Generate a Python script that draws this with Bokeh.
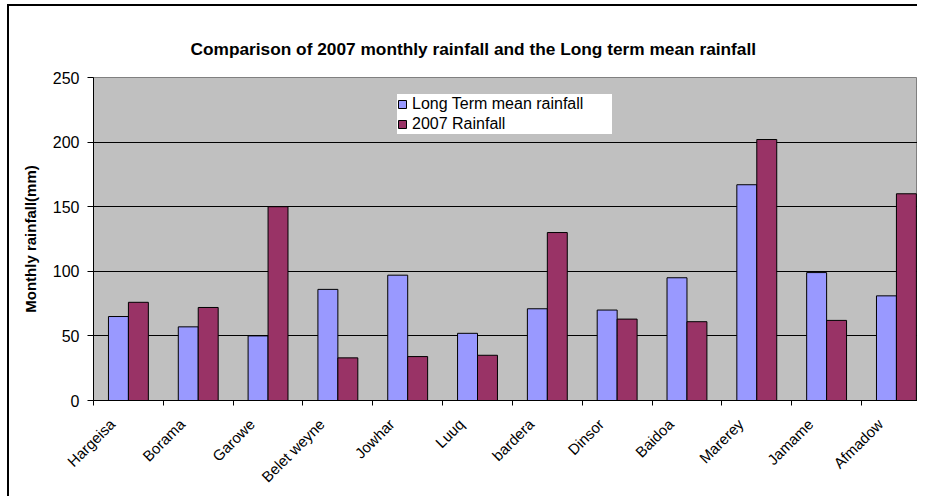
import numpy as np
from bokeh.plotting import figure
from bokeh.models import (Range1d, FixedTicker, Legend, LegendItem,
                          ColumnDataSource)
from bokeh.embed import file_html
from bokeh.resources import INLINE

stations = ["Hargeisa", "Borama", "Garowe", "Belet weyne", "Jowhar", "Luuq",
            "bardera", "Dinsor", "Baidoa", "Marerey", "Jamame", "Afmadow"]
long_term = [65, 57, 50, 86, 97, 52, 71, 70, 95, 167, 99, 81]
rain_2007 = [76, 72, 150, 33, 34, 35, 130, 63, 61, 202, 62, 160]
y_ticks = [0, 50, 100, 150, 200, 250]
grid_ticks = [50, 100, 150, 200]
series_names = ["Long Term mean rainfall", "2007 Rainfall"]
title_text = "Comparison of 2007  monthly rainfall and the Long term mean rainfall"
y_label = "Monthly rainfall(mm)"

FONT = "Liberation Sans"
W, H = 917, 496
LEFT, TOP, FRAME_H = 93, 77, 323
BOTTOM = H - TOP - FRAME_H
cat_px = 69.82
n = len(stations)
x_end = (W - LEFT) / cat_px

p = figure(width=W, height=H, output_backend="svg", toolbar_location=None,
           x_range=Range1d(0, x_end), y_range=Range1d(0, 250),
           min_border_left=LEFT, min_border_right=0, min_border_top=TOP,
           min_border_bottom=BOTTOM, title=title_text)
# outer chart-area border (left and top edges visible), drawn as the page
# element's background behind a transparent canvas border
p.styles = {
    "background-image": "linear-gradient(black, black), linear-gradient(black, black)",
    "background-size": "2px 100%, 100% 2px",
    "background-position": "7px 4px, 7px 4px",
    "background-repeat": "no-repeat",
}
p.background_fill_color = "#C0C0C0"
p.border_fill_alpha = 0
p.outline_line_color = "#808080"
p.outline_line_width = 1

p.title.align = "left"
p.title.offset = 97
p.title.standoff = 38
p.title.text_font = FONT
p.title.text_font_size = "17.3px"
p.title.text_font_style = "bold"
p.title.text_color = "black"

centers = np.arange(n) + 0.5
bw = 1 / 3.5
src = ColumnDataSource(dict(x1=centers - bw / 2, x2=centers + bw / 2,
                            lt=long_term, r7=rain_2007))
r1 = p.vbar(x="x1", top="lt", bottom=0, width=bw, source=src,
            fill_color="#9999FF", line_color="black", line_width=1)
r2 = p.vbar(x="x2", top="r7", bottom=0, width=bw, source=src,
            fill_color="#993366", line_color="black", line_width=1)

# grid
p.xgrid.grid_line_color = None
p.ygrid.ticker = FixedTicker(ticks=grid_ticks)
p.ygrid.grid_line_color = "black"
p.ygrid.grid_line_width = 1

# y axis
ya = p.yaxis[0]
ya.ticker = FixedTicker(ticks=y_ticks)
ya.axis_line_color = "black"
ya.major_tick_in = 0
ya.major_tick_out = 6
ya.minor_tick_line_color = None
ya.major_label_text_font = FONT
ya.major_label_text_font_size = "16px"
ya.major_label_text_color = "black"
ya.major_label_standoff = 8
ya.axis_label = y_label
ya.axis_label_text_font = FONT
ya.axis_label_text_font_size = "15px"
ya.axis_label_text_font_style = "bold"
ya.axis_label_text_color = "black"
ya.axis_label_standoff = 11

# x axis: tick marks at category boundaries, labels near category centres
label_shift = 0.23
label_pos = [float(c - label_shift) for c in centers]
xa = p.xaxis[0]
xa.ticker = FixedTicker(ticks=label_pos, minor_ticks=list(range(n + 1)))
xa.major_label_overrides = {lp: s for lp, s in zip(label_pos, stations)}
xa.major_tick_line_color = None
xa.minor_tick_line_color = "black"
xa.minor_tick_in = 0
xa.minor_tick_out = 5
xa.axis_line_color = "black"
xa.major_label_orientation = np.pi / 4
xa.major_label_text_font = FONT
xa.major_label_text_font_size = "15px"
xa.major_label_text_color = "black"
xa.major_label_standoff = 15

# legend
legend = Legend(items=[LegendItem(label=series_names[0], renderers=[r1]),
                       LegendItem(label=series_names[1], renderers=[r2])],
                location=(304, 266))
legend.background_fill_color = "white"
legend.background_fill_alpha = 1
legend.border_line_color = None
legend.label_text_font = FONT
legend.label_text_font_size = "16px"
legend.label_text_color = "black"
legend.glyph_width = 10
legend.glyph_height = 10
legend.label_standoff = 5
legend.label_height = 20
legend.label_width = 200
legend.padding = 2
legend.spacing = 0
legend.margin = 0
p.add_layout(legend)

open("out.html", "w").write(file_html(p, INLINE))
